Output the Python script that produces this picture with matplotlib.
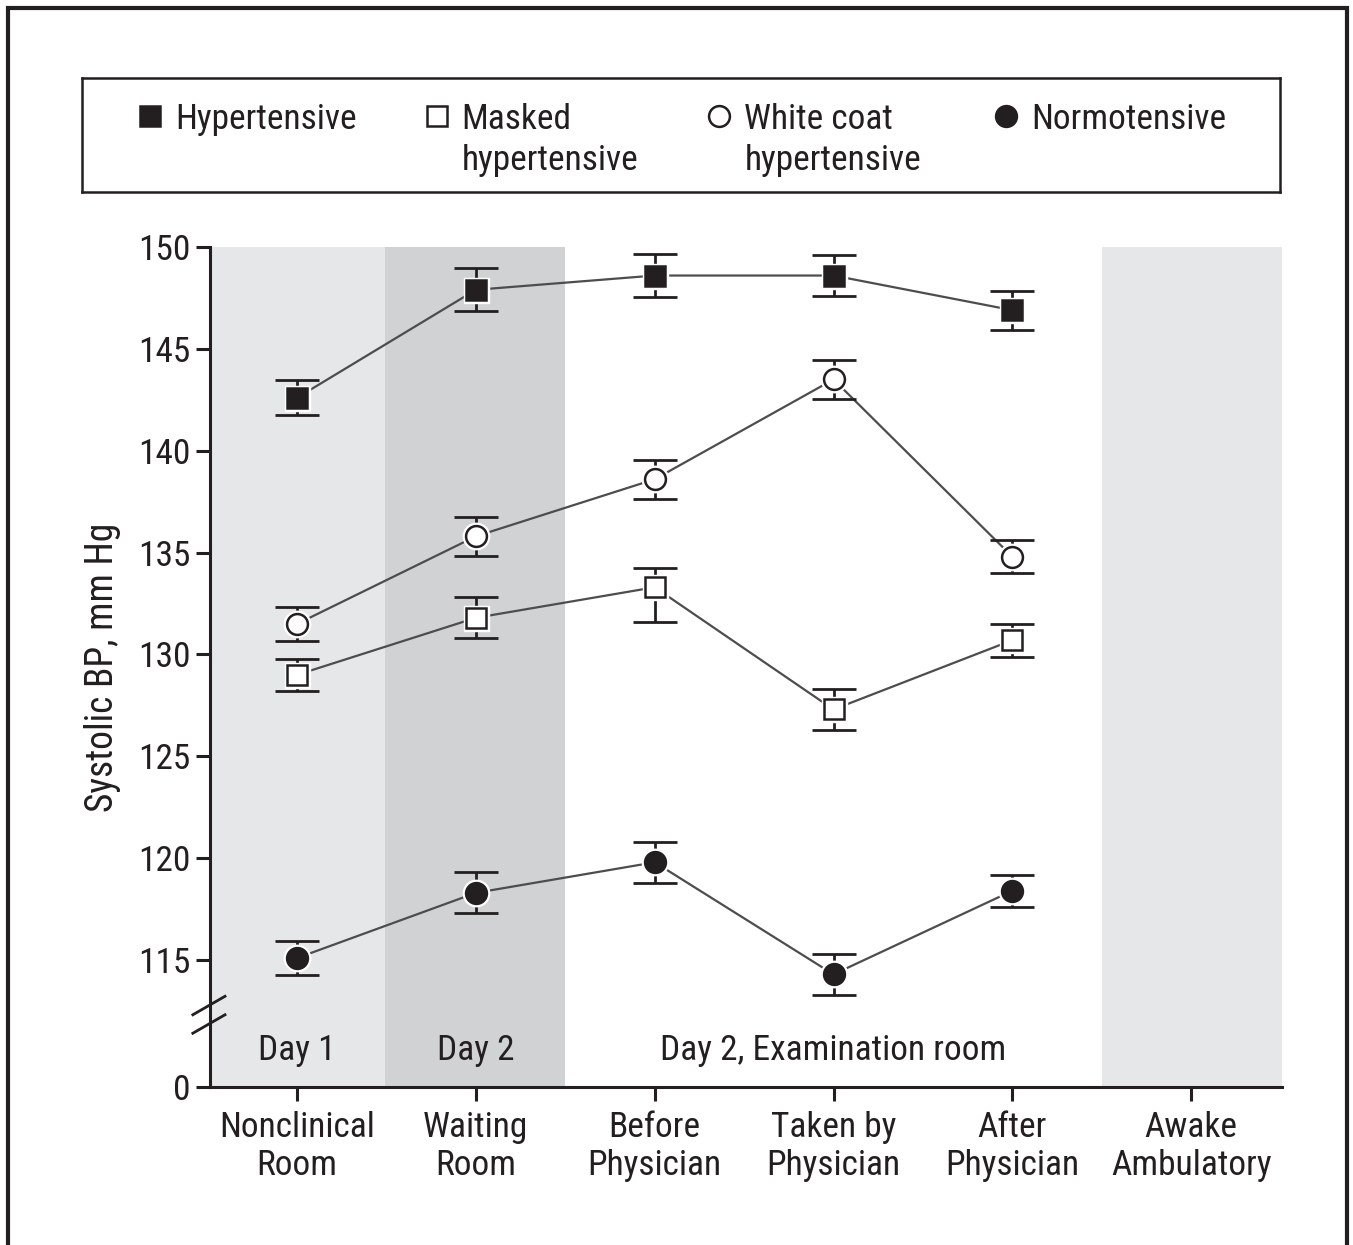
import matplotlib.pyplot as plt
import matplotlib.patches as mpatches
from matplotlib import font_manager
import numpy as np

# pick a narrow sans if one is installed
installed = {f.name for f in font_manager.fontManager.ttflist}
candidates = ['Liberation Sans Narrow', 'Roboto Condensed', 'DejaVu Sans Condensed',
              'Open Sans Condensed', 'Arial Narrow', 'Liberation Sans']
font_name = next((c for c in candidates if c in installed), 'DejaVu Sans')
plt.rcParams['font.family'] = [font_name, 'DejaVu Sans']
fs = 25.5 if 'Narrow' in font_name or 'Condensed' in font_name else 21

categories = ['Nonclinical\nRoom', 'Waiting\nRoom', 'Before\nPhysician',
              'Taken by\nPhysician', 'After\nPhysician', 'Awake\nAmbulatory']

hyper = [142.6, 147.9, 148.6, 148.6, 146.9]
hyper_err = [0.85, 1.05, 1.05, 1.0, 0.95]

white_coat = [131.5, 135.8, 138.6, 143.5, 134.8]
white_coat_err = [0.85, 0.95, 0.95, 0.95, 0.8]

masked = [129.0, 131.8, 133.3, 127.3, 130.7]
masked_err_lo = [0.8, 1.0, 1.7, 1.0, 0.8]
masked_err_hi = [0.8, 1.0, 0.95, 1.0, 0.8]

normo = [115.1, 118.3, 119.8, 114.3, 118.4]
normo_err = [0.85, 1.0, 1.0, 1.0, 0.8]

ytick_vals = [115, 120, 125, 130, 135, 140, 145, 150]
y_bottom = 108.77  # where the broken axis shows "0"

fig = plt.figure(figsize=(13.53, 12.45), dpi=100)
ax = fig.add_axes([0.1552, 0.1269, 0.7923, 0.6747])

x = np.arange(len(hyper))

# shaded bands
ax.axvspan(-0.6, 0.49, color='#e6e7e8', zorder=0, lw=0)
ax.axvspan(0.49, 1.5, color='#d1d2d4', zorder=0, lw=0)
ax.axvspan(4.5, 5.6, color='#e6e7e8', zorder=0, lw=0)

line_col = '#4d4d4d'
dark = '#231f20'


def draw_series(vals, err, marker, face, ms):
    ax.plot(x, vals, color=line_col, lw=1.6, zorder=2)
    ax.errorbar(x, vals, yerr=err, fmt='none', ecolor=dark, elinewidth=2,
                capsize=16, capthick=2, zorder=3)
    ax.plot(x, vals, ls='none', marker=marker, ms=ms + 4, mfc='white',
            mec='white', zorder=4)
    ax.plot(x, vals, ls='none', marker=marker, ms=ms, mfc=face, mec=dark,
            mew=1.8, zorder=5)


draw_series(hyper, hyper_err, 's', dark, 14)
draw_series(white_coat, white_coat_err, 'o', 'white', 15)
draw_series(masked, [masked_err_lo, masked_err_hi], 's', 'white', 14)
draw_series(normo, normo_err, 'o', dark, 15)

ax.set_xlim(-0.487, 5.508)
ax.set_ylim(y_bottom, 150)
ax.set_yticks([y_bottom] + ytick_vals)
ax.set_yticklabels(['0'] + [str(v) for v in ytick_vals])
ax.set_xticks(np.arange(len(categories)))
ax.set_xticklabels(categories, linespacing=1.2)

for s in ['top', 'right']:
    ax.spines[s].set_visible(False)
for s in ['left', 'bottom']:
    ax.spines[s].set_linewidth(2.2)
    ax.spines[s].set_color(dark)
ax.tick_params(axis='both', direction='out', length=10, width=2.2,
               color=dark, labelsize=fs, labelcolor=dark)
ax.tick_params(axis='x', pad=7)
ax.tick_params(axis='y', pad=4)
ax.set_ylabel('Systolic BP, mm Hg', fontsize=fs + 1.5, color=dark, labelpad=12)

# axis break marks
for dy in [0.0, 0.022]:
    ax.plot([-0.016, 0.014], [0.064 + dy, 0.086 + dy], transform=ax.transAxes,
            color=dark, lw=2, clip_on=False, zorder=6)

# region labels
ax.text(0, 0.044, 'Day 1', transform=ax.get_xaxis_transform(), ha='center',
        va='center', fontsize=fs, color=dark)
ax.text(1, 0.044, 'Day 2', transform=ax.get_xaxis_transform(), ha='center',
        va='center', fontsize=fs, color=dark)
ax.text(3, 0.044, 'Day 2, Examination room', transform=ax.get_xaxis_transform(),
        ha='center', va='center', fontsize=fs, color=dark)

# legend box
lax = fig.add_axes([0.0606, 0.8458, 0.8854, 0.0915])
lax.set_xlim(0, 1)
lax.set_ylim(0, 1)
lax.set_xticks([])
lax.set_yticks([])
for s in lax.spines.values():
    s.set_linewidth(1.8)
    s.set_color(dark)

legend_items = [('Hypertensive', 's', dark),
                ('Masked\nhypertensive', 's', 'white'),
                ('White coat\nhypertensive', 'o', 'white'),
                ('Normotensive', 'o', dark)]
legend_x = [0.057, 0.296, 0.532, 0.771]
for (lab, mk, fc), lx in zip(legend_items, legend_x):
    lax.plot(lx, 0.67, marker=mk, ms=15 if mk == 'o' else 14, mfc=fc,
             mec=dark, mew=1.8, ls='none')
    lax.text(lx + 0.021, 0.67, lab.split('\n')[0], ha='left', va='center_baseline',
             fontsize=fs, color=dark)
    if '\n' in lab:
        lax.text(lx + 0.021, 0.31, lab.split('\n')[1], ha='left',
                 va='center_baseline', fontsize=fs, color=dark)

# outer frame
fig.patches.append(mpatches.Rectangle((8 / 1353, -0.01), 1339 / 1353, 1.01 - 8 / 1245,
                                      transform=fig.transFigure, fill=False,
                                      lw=3, ec=dark))

fig.savefig('out.png', dpi=100)
